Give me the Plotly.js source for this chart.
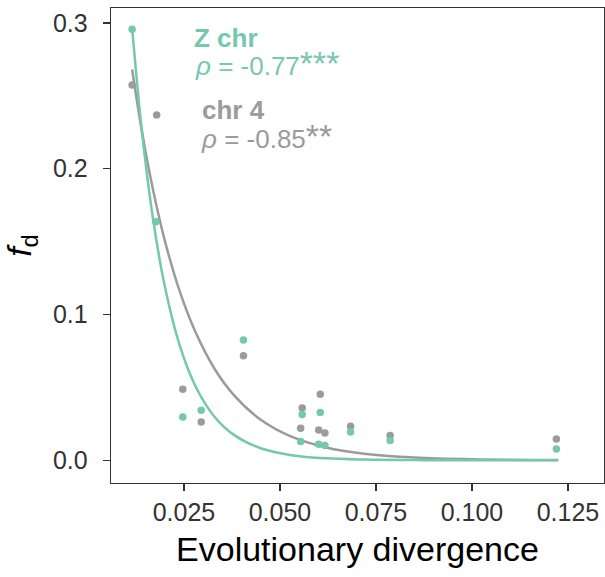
<!DOCTYPE html>
<html>
<head>
<meta charset="utf-8">
<script src="https://cdn.plot.ly/plotly-3.0.1.min.js"></script>
<style>html,body{margin:0;padding:0;background:#fff;}#chart{width:605px;height:577px;}</style>
</head>
<body>
<div id="chart"></div>
<script>
// Observed points: Z chromosome
const zX = [0.0115, 0.0177, 0.0247, 0.0295, 0.0405, 0.0558, 0.0605, 0.0554, 0.0601, 0.0617, 0.0684, 0.0787, 0.1220];
const zY = [0.2956, 0.1636, 0.0297, 0.0343, 0.0824, 0.0314, 0.0327, 0.0128, 0.0110, 0.0101, 0.0194, 0.0135, 0.0078];
// Observed points: chromosome 4
const c4X = [0.0115, 0.0179, 0.0247, 0.0295, 0.0405, 0.0558, 0.0605, 0.0554, 0.0601, 0.0617, 0.0684, 0.0787, 0.1220];
const c4Y = [0.2574, 0.2368, 0.0487, 0.0263, 0.0716, 0.0359, 0.0453, 0.0220, 0.0208, 0.0187, 0.0233, 0.0169, 0.0146];
// Fitted decay curves
const fitX = [0.0115, 0.014, 0.017, 0.020, 0.024, 0.028, 0.033, 0.038, 0.045, 0.053, 0.062, 0.072, 0.085, 0.100, 0.1225];
const zFit = [0.2965, 0.227, 0.1646, 0.1195, 0.0779, 0.0508, 0.0297, 0.0174, 0.0082, 0.0035, 0.0013, 0.00046, 0.00011, 0.00002, 0.000002];
const c4Fit = [0.268, 0.2263, 0.1848, 0.1508, 0.1151, 0.0879, 0.0626, 0.0447, 0.0278, 0.0162, 0.0088, 0.0045, 0.0019, 0.00068, 0.00015];
// Labels
const xTicks = [0.025, 0.050, 0.075, 0.100, 0.125];
const xTickText = ["0.025", "0.050", "0.075", "0.100", "0.125"];
const yTicks = [0.0, 0.1, 0.2, 0.3];
const yTickText = ["0.0", "0.1", "0.2", "0.3"];
const zName = "Z chr", zStat = "ρ = -0.77", zStars = "***";
const c4Name = "chr 4", c4Stat = "ρ = -0.85", c4Stars = "**";

const GREEN = "#74c8ad", GREY = "#9b9b9b";
const FONT = "Liberation Sans, Arial, Helvetica, sans-serif";

const traces = [
  {x: fitX, y: c4Fit, mode: "lines", line: {color: GREY, width: 2.5, shape: "spline", smoothing: 1}, hoverinfo: "skip"},
  {x: fitX, y: zFit, mode: "lines", line: {color: GREEN, width: 2.5, shape: "spline", smoothing: 1}, hoverinfo: "skip"},
  {x: c4X, y: c4Y, mode: "markers", marker: {color: GREY, size: 7.5}},
  {x: zX, y: zY, mode: "markers", marker: {color: GREEN, size: 7.5}}
];

function stat(txt, stars) {
  return "<i>ρ</i>" + txt.slice(1) + "<span style='font-size:34px'>" + stars + "</span>";
}
function ann(x, y, text, size, color) {
  return {x: x, y: y, xref: "x", yref: "y", xanchor: "left", yanchor: "middle", showarrow: false,
          text: text, font: {size: size, color: color, family: FONT}};
}

const layout = {
  width: 605, height: 577,
  margin: {l: 111, r: 1, t: 8, b: 94},
  showlegend: false,
  paper_bgcolor: "#fff", plot_bgcolor: "#fff",
  font: {family: FONT, color: "#333"},
  xaxis: {
    range: [0.006, 0.1344], tickvals: xTicks, ticktext: xTickText,
    showgrid: false, zeroline: false, showline: true, mirror: true,
    linecolor: "#333", linewidth: 1.3, ticks: "outside", ticklen: 7, tickwidth: 1.3, tickcolor: "#333",
    tickfont: {size: 25, color: "#333", family: FONT},
    title: {text: "Evolutionary divergence", font: {size: 34, color: "#000", family: FONT}, standoff: 12}
  },
  yaxis: {
    range: [-0.0156, 0.3102], tickvals: yTicks, ticktext: yTickText,
    showgrid: false, zeroline: false, showline: true, mirror: true,
    linecolor: "#333", linewidth: 1.3, ticks: "outside", ticklen: 7, tickwidth: 1.3, tickcolor: "#333",
    ticklabelstandoff: 10,
    tickfont: {size: 25, color: "#333", family: FONT},
    title: {text: "<i>f</i><sub>d</sub>", font: {size: 34, color: "#000", family: FONT}, standoff: 22}
  },
  annotations: [
    ann(0.0271, 0.2896, "<b>" + zName + "</b>", 26, GREEN),
    ann(0.0273, 0.2725, stat(zStat, zStars), 26, GREEN),
    ann(0.0292, 0.2402, "<b>" + c4Name + "</b>", 26, GREY),
    ann(0.0289, 0.2224, stat(c4Stat, c4Stars), 26, GREY)
  ]
};

Plotly.newPlot("chart", traces, layout, {displayModeBar: false, staticPlot: true});
</script>
</body>
</html>
